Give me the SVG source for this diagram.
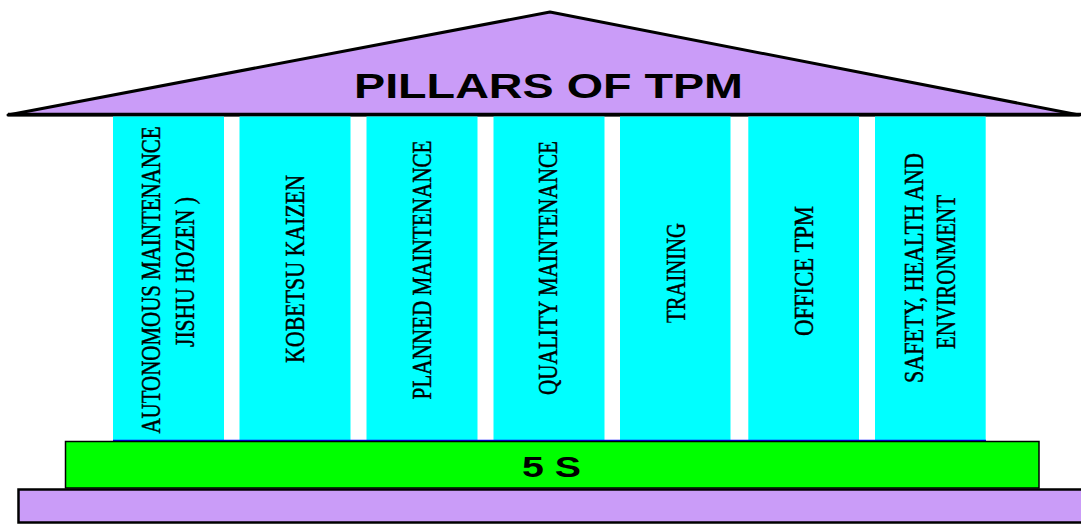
<svg xmlns="http://www.w3.org/2000/svg" width="1081" height="525" viewBox="0 0 1081 525">
<style>
.pillar{fill:#00FFFF;}
.ptxt{font-family:"Liberation Serif","Times New Roman",serif;font-size:21px;fill:#000;stroke:#000;stroke-width:0.35px;text-anchor:middle;}
.lav{fill:#CA9CF8;}
.big{font-family:"Liberation Sans",Arial,sans-serif;font-weight:bold;fill:#000;text-anchor:middle;}
</style>
<rect width="1081" height="525" fill="#FFFFFF"/>
<g id="roof">
  <polygon class="lav" points="8,115 550,12 1079,115" stroke="#000" stroke-width="3" stroke-linejoin="round"/>
  <line x1="8" y1="114.5" x2="1081" y2="114.5" stroke="#000" stroke-width="3.5"/>
  <text class="big" x="548.5" y="98" font-size="35" textLength="389" lengthAdjust="spacingAndGlyphs">PILLARS OF TPM</text>
</g>
<g id="pillar1">
  <rect class="pillar" x="113" y="116.5" width="111" height="323.5"/>
  <text class="ptxt" transform="translate(160,280) rotate(-90) scale(1,1.3)" textLength="307" lengthAdjust="spacingAndGlyphs">AUTONOMOUS MAINTENANCE</text>
  <text class="ptxt" transform="translate(194,272) rotate(-90) scale(1,1.3)" textLength="150" lengthAdjust="spacingAndGlyphs">JISHU HOZEN )</text>
</g>
<g id="pillar2">
  <rect class="pillar" x="239.5" y="116.5" width="111" height="323.5"/>
  <text class="ptxt" transform="translate(303.5,269) rotate(-90) scale(1,1.3)" textLength="188" lengthAdjust="spacingAndGlyphs">KOBETSU KAIZEN</text>
</g>
<g id="pillar3">
  <rect class="pillar" x="366.5" y="116.5" width="111" height="323.5"/>
  <text class="ptxt" transform="translate(431,270) rotate(-90) scale(1,1.3)" textLength="259" lengthAdjust="spacingAndGlyphs">PLANNED MAINTENANCE</text>
</g>
<g id="pillar4">
  <rect class="pillar" x="493.5" y="116.5" width="111" height="323.5"/>
  <text class="ptxt" transform="translate(557,268) rotate(-90) scale(1,1.3)" textLength="254" lengthAdjust="spacingAndGlyphs">QUALITY MAINTENANCE</text>
</g>
<g id="pillar5">
  <rect class="pillar" x="620" y="116.5" width="110.5" height="323.5"/>
  <text class="ptxt" transform="translate(685,273) rotate(-90) scale(1,1.3)" textLength="100" lengthAdjust="spacingAndGlyphs">TRAINING</text>
</g>
<g id="pillar6">
  <rect class="pillar" x="748.3" y="116.5" width="110.7" height="323.5"/>
  <text class="ptxt" transform="translate(813,271) rotate(-90) scale(1,1.3)" textLength="130" lengthAdjust="spacingAndGlyphs">OFFICE TPM</text>
</g>
<g id="pillar7">
  <rect class="pillar" x="875" y="116.5" width="110.7" height="323.5"/>
  <text class="ptxt" transform="translate(923,268) rotate(-90) scale(1,1.3)" textLength="230" lengthAdjust="spacingAndGlyphs">SAFETY, HEALTH AND</text>
  <text class="ptxt" transform="translate(955,272) rotate(-90) scale(1,1.3)" textLength="154" lengthAdjust="spacingAndGlyphs">ENVIRONMENT</text>
</g>
<g id="pillar-line">
  <line x1="113" y1="440.3" x2="986" y2="440.3" stroke="#0000FF" stroke-width="1.2"/>
</g>
<g id="five-s">
  <rect x="65.5" y="441.5" width="973.5" height="46.5" fill="#00FF00" stroke="#000" stroke-width="1.5"/>
  <text class="big" x="551.5" y="476.5" font-size="30" textLength="59" lengthAdjust="spacingAndGlyphs">5 S</text>
</g>
<g id="base">
  <rect class="lav" x="18.5" y="489.5" width="1070" height="33" stroke="#000" stroke-width="2.5"/>
</g>
</svg>
